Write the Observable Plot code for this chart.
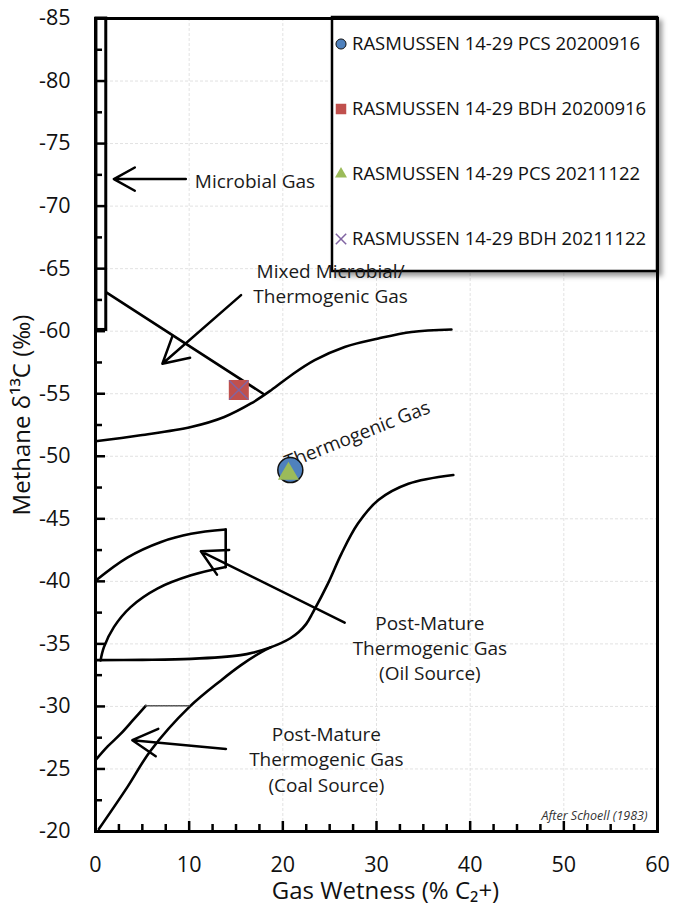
<!DOCTYPE html>
<html>
<head>
<meta charset="utf-8">
<script src="https://cdn.jsdelivr.net/npm/d3@7"></script>
<script src="https://cdn.jsdelivr.net/npm/@observablehq/plot@0.6"></script>
<style>
  body { margin: 0; background: #fff; font-family: "Open Sans", Lato, sans-serif; }
  #wrap { width: 674px; height: 906px; }
</style>
</head>
<body>
<div id="wrap"></div>
<script>
// ---- axes ----
const xTicks = [0, 10, 20, 30, 40, 50, 60];
const yTicks = [-85, -80, -75, -70, -65, -60, -55, -50, -45, -40, -35, -30, -25, -20];
const xMinor = [2.5, 5, 7.5, 12.5, 15, 17.5, 22.5, 25, 27.5, 32.5, 35, 37.5, 42.5, 45, 47.5, 52.5, 55, 57.5];
const yMinor = [-82.5, -77.5, -72.5, -67.5, -62.5, -57.5, -52.5, -47.5, -42.5, -37.5, -32.5, -27.5, -22.5];

// ---- samples ----
const seriesNames = ["RASMUSSEN 14-29 PCS 20200916", "RASMUSSEN 14-29 BDH 20200916", "RASMUSSEN 14-29 PCS 20211122", "RASMUSSEN 14-29 BDH 20211122"];
const seriesColors = ["#4f81bd", "#c0504d", "#9bbb59", "#8064a2"];
const seriesSymbols = ["circle", "square", "triangle", "times"];
const seriesX = [20.8, 15.3, 20.6, 15.3];
const seriesY = [-48.9, -55.3, -48.6, -55.3];

// ---- Schoell (1983) field boundaries ----
const microbialBoxX = [0.1, 1.15];
const microbialBoxY = [-85, -60.1];
const mixedLineX = [1.15, 17.9];
const mixedLineY = [-63.1, -55.0];
const thermoUpperX = [0, 4.8, 10.2, 13.75, 16.6, 18.75, 20.9, 23.4, 26.6, 30.2, 33.75, 38.0];
const thermoUpperY = [-51.2, -51.68, -52.34, -53.14, -54.22, -55.28, -56.48, -57.68, -58.74, -59.42, -59.94, -60.14];
const thermoLowerX = [0, 5, 10.2, 15.5, 17, 18.75, 19.8, 20.8, 21.7, 22.5, 23.2, 24.8, 26.25, 28, 30.2, 33.4, 38.2];
const thermoLowerY = [-33.7, -33.72, -33.8, -34.1, -34.34, -34.74, -35.06, -35.45, -35.95, -36.6, -37.5, -39.8, -42.2, -44.6, -46.5, -47.8, -48.5];
const oilUpperX = [0, 3.4, 7, 10.2, 13.9];
const oilUpperY = [-40.05, -41.9, -43.15, -43.8, -44.14];
const oilSideX = [13.9, 13.9];
const oilSideY = [-44.14, -41.14];
const oilInnerX = [0.54, 0.9, 1.96, 3.75, 6.6, 10.2, 13.9];
const oilInnerY = [-33.68, -34.74, -36.34, -37.94, -39.42, -40.48, -41.14];
const coalUpperX = [0, 1.3, 2.68, 4.0, 5.36];
const coalUpperY = [-25.7, -26.8, -27.8, -28.9, -30.05];
const coalTopX = [5.36, 10];
const coalTopY = [-30.05, -30.05];
const coalLowerX = [0.36, 3.4, 5.9, 10, 13.4, 15.5, 17.7, 18.75];
const coalLowerY = [-20.2, -23.55, -26.48, -29.94, -32.08, -33.28, -34.34, -34.74];

// ---- annotations ----
const annoText = ["Microbial Gas", "Mixed Microbial/\nThermogenic Gas", "Post-Mature\nThermogenic Gas\n(Oil Source)", "Post-Mature\nThermogenic Gas\n(Coal Source)"];
const annoX = [10.6, 25.1, 35.7, 24.65];
const annoY = [-72.1, -63.9, -34.74, -25.84];
const annoAnchor = ["start", "middle", "middle", "middle"];
const arrowX1 = [9.64, 15.54, 26.6, 13.93];
const arrowY1 = [-72.16, -62.88, -36.7, -26.6];
const arrowX2 = [1.96, 7.14, 11.25, 3.93];
const arrowY2 = [-72.16, -57.4, -42.4, -27.3];
const thermoLabel = "Thermogenic Gas";
const thermoLabelX = 27.95;
const thermoLabelY = -51.7;

const zip = (xs, ys) => xs.map((x, i) => ({x, y: ys[i]}));
const curves = [
  zip(thermoUpperX, thermoUpperY), zip(thermoLowerX, thermoLowerY),
  zip(oilUpperX, oilUpperY), zip(oilInnerX, oilInnerY), zip(coalUpperX, coalUpperY), zip(coalLowerX, coalLowerY)
];
const straights = [zip(mixedLineX, mixedLineY), zip(oilSideX, oilSideY)];
const annos = annoText.map((t, i) => ({t, x: annoX[i], y: annoY[i], a: annoAnchor[i]}));
const arrows = arrowX1.map((x1, i) => ({x1, y1: arrowY1[i], x2: arrowX2[i], y2: arrowY2[i]}));
const pts = seriesNames.map((n, i) => ({n, x: seriesX[i], y: seriesY[i]}));

const W = 674, H = 906, mL = 95, mR = 17, mT = 18, mB = 75;
const innerW = W - mL - mR, innerH = H - mT - mB;
const font = "'Open Sans', Lato, sans-serif";
const lw = 2.6;
const annoSize = 19;

const marks = [
  Plot.gridX(xTicks, {stroke: "#e2e2e2", strokeOpacity: 1, strokeDasharray: "3,2"}),
  Plot.gridY(yTicks, {stroke: "#e2e2e2", strokeOpacity: 1, strokeDasharray: "3,2"}),
  Plot.axisX(xTicks, {tickSize: 0, tickPadding: 25, fontSize: 21.5, fill: "#111", tickFormat: d => String(d), label: null}),
  Plot.axisY(yTicks, {tickSize: 0, tickPadding: 25, fontSize: 21.5, fill: "#111", tickFormat: d => String(d), label: null}),
  Plot.tickX(xTicks, {insetTop: innerH - 10, stroke: "#000", strokeWidth: 2.5}),
  Plot.tickX(xMinor, {insetTop: innerH - 7, stroke: "#000", strokeWidth: 2.5}),
  Plot.tickY(yTicks, {insetRight: innerW - 10, stroke: "#000", strokeWidth: 2.5}),
  Plot.tickY(yMinor, {insetRight: innerW - 7, stroke: "#000", strokeWidth: 2.5}),
  Plot.rect([0], {x1: () => microbialBoxX[0], x2: () => microbialBoxX[1], y1: () => microbialBoxY[0], y2: () => microbialBoxY[1], fill: "none", stroke: "#000", strokeWidth: 3})
];
curves.forEach(c => marks.push(Plot.line(c, {x: "x", y: "y", curve: "catmull-rom", stroke: "#000", strokeWidth: lw})));
straights.forEach(c => marks.push(Plot.line(c, {x: "x", y: "y", stroke: "#000", strokeWidth: lw})));
marks.push(Plot.line(zip(coalTopX, coalTopY), {x: "x", y: "y", stroke: "#555", strokeWidth: 1.6, strokeDasharray: "1.5,1"}));
marks.push(
  Plot.arrow(arrows, {x1: "x1", y1: "y1", x2: "x2", y2: "y2", stroke: "#000", strokeWidth: 2.5, headLength: 17, headAngle: 58, inset: 0}),
  Plot.text(annos.filter(d => d.a === "start"), {x: "x", y: "y", text: "t", textAnchor: "start", fontSize: annoSize, lineHeight: 1.32, fill: "#1a1a1a", fontFamily: font, className: "anno"}),
  Plot.text(annos.filter(d => d.a === "middle"), {x: "x", y: "y", text: "t", textAnchor: "middle", fontSize: annoSize, lineHeight: 1.32, fill: "#1a1a1a", fontFamily: font, className: "anno"}),
  Plot.text([thermoLabel], {x: () => thermoLabelX, y: () => thermoLabelY, text: d => d, rotate: -21.5, fontSize: annoSize, fill: "#1a1a1a", fontFamily: font}),
  Plot.dot(pts.filter((d, i) => i === 0), {x: "x", y: "y", symbol: "circle", r: 12.5, fill: seriesColors[0], stroke: "#111", strokeWidth: 1.5}),
  Plot.dot(pts.filter((d, i) => i === 1), {x: "x", y: "y", symbol: "square", r: 11.3, fill: seriesColors[1]}),
  Plot.dot(pts.filter((d, i) => i === 2), {x: "x", y: "y", symbol: "triangle", r: 7.8, fill: seriesColors[2]}),
  Plot.dot(pts.filter((d, i) => i === 3), {x: "x", y: "y", symbol: "times", r: 8.7, stroke: seriesColors[3], strokeWidth: 1.5, fill: "none"}),
  Plot.text(["After Schoell (1983)"], {frameAnchor: "bottom-right", textAnchor: "end", lineAnchor: "bottom", dx: -10, dy: -12, fontSize: 12.5, fontStyle: "italic", fill: "#333", fontFamily: font}),
  Plot.frame({stroke: "#000", strokeWidth: 3}),
  Plot.text(["Methane δ¹³C (‰)"], {frameAnchor: "left", textAnchor: "middle", lineAnchor: "middle", rotate: -90, dx: -73, dy: -10, fontSize: 24, fill: "#111", fontFamily: font}),
  Plot.text(["Gas Wetness (% C₂+)"], {frameAnchor: "bottom", textAnchor: "middle", lineAnchor: "middle", dx: 9, dy: 60, fontSize: 24, fill: "#111", fontFamily: font})
);

const chart = Plot.plot({
  width: W, height: H,
  marginLeft: mL, marginRight: mR, marginTop: mT, marginBottom: mB,
  style: {fontFamily: font, background: "#fff", overflow: "visible"},
  x: {domain: [0, 60]},
  y: {domain: [-20, -85]},
  marks
});
document.getElementById("wrap").appendChild(chart);

// ---- legend (drawn inside the plot's SVG, beneath the annotation texts) ----
const svg = d3.select(chart);
const defs = svg.append("defs");
const f = defs.append("filter").attr("id", "lgShadow").attr("x", "-10%").attr("y", "-10%").attr("width", "130%").attr("height", "130%");
f.append("feDropShadow").attr("dx", 4).attr("dy", 4).attr("stdDeviation", 2.5).attr("flood-color", "#000").attr("flood-opacity", 0.4);
const before = chart.querySelector("g.anno");
const lg = before ? svg.insert("g", "g.anno") : svg.append("g");
lg.attr("transform", "translate(332,17)").attr("font-family", font).attr("text-anchor", "start");
lg.append("rect").attr("width", 325).attr("height", 254).attr("fill", "#fff").attr("stroke", "#000").attr("stroke-width", 2.5).attr("filter", "url(#lgShadow)");
const symbolTypes = {circle: d3.symbolCircle, square: d3.symbolSquare, triangle: d3.symbolTriangle, times: d3.symbolTimes};
const symbolSizes = {circle: 80, square: 110, triangle: 62, times: 72};
seriesNames.forEach((name, i) => {
  const cy = 27 + i * 65;
  const sym = seriesSymbols[i];
  const p = lg.append("path").attr("transform", `translate(9,${cy})`).attr("d", d3.symbol(symbolTypes[sym], symbolSizes[sym])());
  if (sym === "times") p.attr("fill", "none").attr("stroke", seriesColors[i]).attr("stroke-width", 1.5);
  else p.attr("fill", seriesColors[i]).attr("stroke", sym === "circle" ? "#111" : "none").attr("stroke-width", 1);
  lg.append("text").attr("x", 20).attr("y", cy).attr("dy", "0.35em").attr("font-size", 18.5).attr("fill", "#111").text(name);
});
</script>
</body>
</html>
